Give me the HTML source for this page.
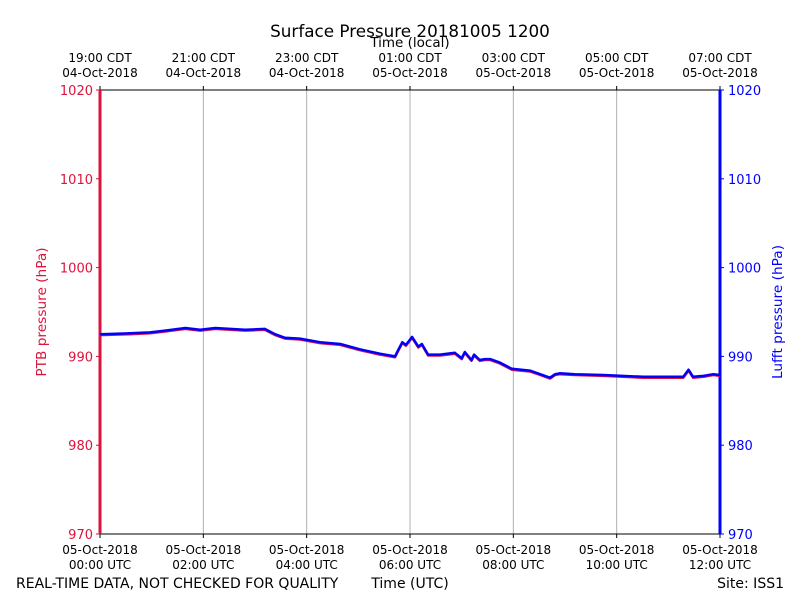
<!DOCTYPE html>
<html><head><meta charset="utf-8"><style>
body{margin:0;background:#fff;}
svg{font-family:"DejaVu Sans","Liberation Sans",sans-serif;}
</style></head><body>
<svg id="chart" width="800" height="600">
<text x="410" y="37" font-size="16.8" text-anchor="middle">Surface Pressure 20181005 1200</text>
<text x="410" y="47" font-size="13.5" text-anchor="middle">Time (local)</text>
<text x="16" y="588" font-size="14">REAL-TIME DATA, NOT CHECKED FOR QUALITY</text>
<text x="410" y="588" font-size="14" text-anchor="middle">Time (UTC)</text>
<text x="784" y="588" font-size="14" text-anchor="end">Site: ISS1</text>
<text transform="translate(46,312) rotate(-90)" font-size="13.7" fill="#dc143c" text-anchor="middle">PTB pressure (hPa)</text>
<text transform="translate(782,312) rotate(-90)" font-size="13.7" fill="#0000ff" text-anchor="middle">Lufft pressure (hPa)</text>
<g id="grid"></g><g id="axes"></g><g id="series"></g>
</svg>
<script>
const hours=[0,0.58,0.97,1.26,1.65,1.94,2.23,2.52,2.81,3.19,3.39,3.58,3.87,4.26,4.65,5.03,5.42,5.71,5.77,5.85,5.92,6.04,6.16,6.23,6.35,6.58,6.87,7.0,7.06,7.19,7.24,7.35,7.45,7.55,7.74,7.97,8.32,8.52,8.71,8.81,8.90,9.19,9.74,10.52,10.90,11.29,11.39,11.48,11.68,11.87,12.0];
const lufft=[992.5,992.6,992.7,992.9,993.2,993.0,993.2,993.1,993.0,993.1,992.5,992.1,992.0,991.6,991.4,990.8,990.3,990.0,990.7,991.6,991.3,992.2,991.1,991.4,990.2,990.2,990.4,989.8,990.5,989.6,990.2,989.6,989.7,989.7,989.3,988.6,988.4,988.0,987.6,988.0,988.1,988.0,987.9,987.7,987.7,987.7,988.5,987.7,987.8,988.0,987.9];
const ptb=[992.4,992.5,992.6,992.8,993.1,992.9,993.1,993.0,992.9,993.0,992.4,992.0,991.9,991.5,991.3,990.7,990.2,989.9,990.6,991.5,991.2,992.1,991.0,991.3,990.1,990.1,990.3,989.7,990.4,989.5,990.1,989.5,989.6,989.6,989.2,988.5,988.3,987.9,987.5,987.9,988.0,987.9,987.8,987.6,987.6,987.6,988.4,987.6,987.7,987.9,987.8];
const yTicks=[970,980,990,1000,1010,1020];
const xTickHours=[0,2,4,6,8,10,12];
const utcLabels=["00:00 UTC","02:00 UTC","04:00 UTC","06:00 UTC","08:00 UTC","10:00 UTC","12:00 UTC"];
const utcDates=["05-Oct-2018","05-Oct-2018","05-Oct-2018","05-Oct-2018","05-Oct-2018","05-Oct-2018","05-Oct-2018"];
const localLabels=["19:00 CDT","21:00 CDT","23:00 CDT","01:00 CDT","03:00 CDT","05:00 CDT","07:00 CDT"];
const localDates=["04-Oct-2018","04-Oct-2018","04-Oct-2018","05-Oct-2018","05-Oct-2018","05-Oct-2018","05-Oct-2018"];
const L=100,R=720,T=90,B=534;
const xs=h=>L+(R-L)*h/12;
const ys=v=>B-(B-T)*(v-970)/50;
const NS="http://www.w3.org/2000/svg";
function mk(tag,attrs,parent,text){const e=document.createElementNS(NS,tag);for(const k in attrs)e.setAttribute(k,attrs[k]);if(text!==undefined)e.textContent=text;parent.appendChild(e);return e;}
const grid=document.getElementById('grid'),axes=document.getElementById('axes'),series=document.getElementById('series');
xTickHours.forEach((h,i)=>{
  const x=xs(h);
  if(i>0&&i<xTickHours.length-1){const g=mk('line',{x1:x,x2:x,y1:T,y2:B,stroke:'#b0b0b0','stroke-width':1},grid);
  
  }
  mk('line',{x1:x,x2:x,y1:B,y2:B+4,stroke:'#000'},axes);
  mk('line',{x1:x,x2:x,y1:T,y2:T-4,stroke:'#000'},axes);
  const t1=mk('text',{x:x,y:554,'font-size':12,'text-anchor':'middle'},axes,utcDates[i]);
  
  
  const t2=mk('text',{x:x,y:569,'font-size':12,'text-anchor':'middle'},axes,utcLabels[i]);
  
  
  const t3=mk('text',{x:x,y:62,'font-size':12,'text-anchor':'middle'},axes,localLabels[i]);
  
  
  const t4=mk('text',{x:x,y:77,'font-size':12,'text-anchor':'middle'},axes,localDates[i]);
  
  
});
yTicks.forEach(v=>{
  const y=ys(v);
  mk('line',{x1:L-4,x2:L,y1:y,y2:y,stroke:'#dc143c'},axes);
  mk('line',{x1:R,x2:R+4,y1:y,y2:y,stroke:'#0000ff'},axes);
  const a=mk('text',{x:L-7,y:y+5,'font-size':13,'text-anchor':'end',fill:'#dc143c'},axes,String(v));
  
  
  const b=mk('text',{x:R+8,y:y+5,'font-size':13,fill:'#0000ff'},axes,String(v));
  
  
});
const tl=mk('line',{x1:L,x2:R,y1:T,y2:T,stroke:'#000'},axes);
const bl=mk('line',{x1:L,x2:R,y1:B,y2:B,stroke:'#000'},axes);
const la=mk('line',{x1:L,x2:L,y1:T,y2:B,stroke:'#dc143c','stroke-width':3},axes);


const ra=mk('line',{x1:R,x2:R,y1:T,y2:B,stroke:'#0000ff','stroke-width':3},axes);


const pts=arr=>arr.map((v,i)=>xs(hours[i]).toFixed(1)+','+ys(v).toFixed(1)).join(' ');
const p1=mk('polyline',{points:pts(ptb),fill:'none',stroke:'#dc143c','stroke-width':2.5,'stroke-linejoin':'round'},series);


const p2=mk('polyline',{points:pts(lufft),fill:'none',stroke:'#0000ff','stroke-width':2.5,'stroke-linejoin':'round'},series);


</script>
</body></html>
